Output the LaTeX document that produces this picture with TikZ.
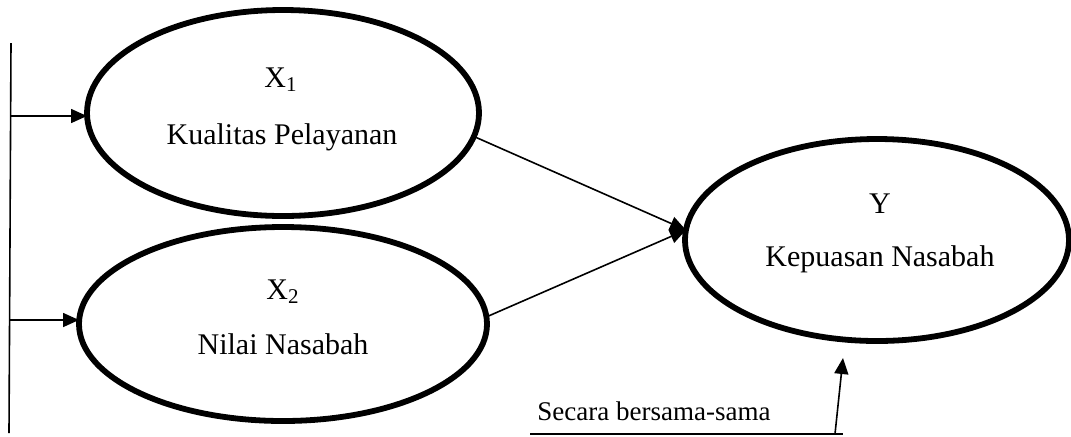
\documentclass[tikz,border=0pt]{standalone}
\usepackage{fontspec}
\setmainfont{Liberation Serif}
\usetikzlibrary{shapes.geometric,arrows.meta}
\begin{document}
\begin{tikzpicture}[x=0.5pt,y=-0.5pt,
  var/.style={draw,ellipse,line width=2.9pt,inner sep=0pt,outer sep=0pt},
  lbl/.style={anchor=base,inner sep=0pt,font=\fontsize{15}{18}\selectfont},
  thin/.style={line width=0.8pt},
  arr/.style={thin,-{Triangle[length=8pt,width=7pt]}}]
\useasboundingbox (0,0) rectangle (1071,436);
% ellipses
\node[var,minimum width=196pt,minimum height=103pt] (x1) at (283,113) {};
\node[var,minimum width=204pt,minimum height=97pt] (x2) at (283,324) {};
\node[var,minimum width=192pt,minimum height=101pt] (y) at (877,240) {};
% texts
\node[lbl] (t1a) at (281,87) {X\textsubscript{1}};
\node[lbl] (t1b) at (282,144) {Kualitas Pelayanan};
\node[lbl] (t2a) at (283,299) {X\textsubscript{2}};
\node[lbl] (t2b) at (283,354) {Nilai Nasabah};
\node[lbl] (tya) at (880,213) {Y};
\node[lbl] (tyb) at (880,266) {Kepuasan Nasabah};
\node[anchor=base west,inner sep=0pt,font=\fontsize{13.5}{16}\selectfont] (sec) at (537,420) {Secara bersama-sama};
% left bar
\coordinate (ltop) at (11,43);
\coordinate (lbot) at (9,433);
\coordinate (l1) at (11,116);
\coordinate (l2) at (10,320);
\draw[thin] (ltop) -- (lbot);
\draw[arr] (l1) -- (l1 -| x1.west);
\draw[arr] (l2) -- (l2 -| x2.west);
% arrows to Y
\coordinate (yin) at (y.177);
\draw[arr] (x1.-7.5) -- (yin);
\draw[arr] (x2.2) -- (yin);
% bottom
\coordinate (b0) at (530,434);
\coordinate (b1) at (843,434);
\coordinate (s1) at (835,434);
\coordinate (s2) at (843,358);
\draw[thin] (b0) -- (b1);
\draw[arr] (s1) -- (s2);
\end{tikzpicture}
\end{document}
